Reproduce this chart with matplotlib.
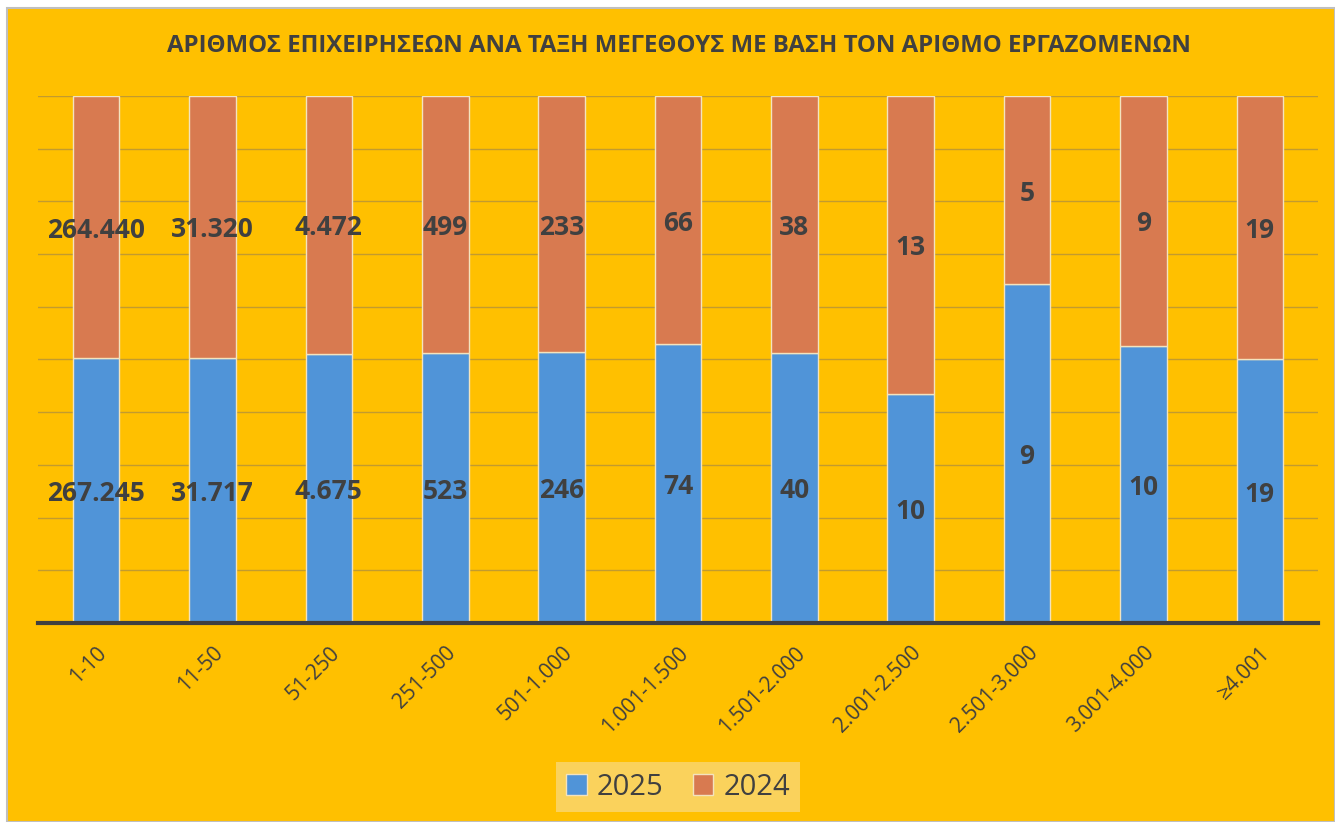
import numpy as np
import matplotlib
matplotlib.use("Agg")
import matplotlib.pyplot as plt
from matplotlib.patches import Rectangle

plt.rcParams['font.family'] = ['Open Sans', 'DejaVu Sans']

# DATOS
categorias = ["1-10", "11-50", "51-250", "251-500", "501-1.000", "1.001-1.500",
              "1.501-2.000", "2.001-2.500", "2.501-3.000", "3.001-4.000", "≥4.001"]
valores_2025 = [267245, 31717, 4675, 523, 246, 74, 40, 10, 9, 10, 19]
valores_2024 = [264440, 31320, 4472, 499, 233, 66, 38, 13, 5, 9, 19]

titulo = "ΑΡΙΘΜΟΣ ΕΠΙΧΕΙΡΗΣΕΩΝ ΑΝΑ ΤΑΞΗ ΜΕΓΕΘΟΥΣ ΜΕ ΒΑΣΗ ΤΟΝ ΑΡΙΘΜΟ ΕΡΓΑΖΟΜΕΝΩΝ"

azul = '#5094D8'
naranja = '#D87A50'
fondo = '#FFC000'
texto = '#404040'

# Porcentajes (gráfico apilado 100%)
a = np.array(valores_2025, dtype=float)
b = np.array(valores_2024, dtype=float)
total = a + b
p25 = a / total * 100
p24 = b / total * 100


def fmt(v):
    return f"{v:,}".replace(",", ".")


fig = plt.figure(figsize=(13.35, 8.22), dpi=100, facecolor='white')
# marco del gráfico
fig.patches.append(Rectangle((7 / 1335, 0), 1 - 7 / 1335, 1 - 8 / 822,
                             transform=fig.transFigure, facecolor=fondo,
                             edgecolor='#BFBFBF', linewidth=1.5, zorder=-10))

ax = fig.add_axes([38 / 1335, 1 - 623 / 822, (1318 - 38) / 1335, (623 - 96) / 822])
ax.set_facecolor('none')
ax.set_zorder(1)

x = np.arange(len(categorias))
barras25 = ax.bar(x, p25, width=0.40, color=azul, edgecolor='#F3E3BE',
                  linewidth=1, label='2025', zorder=3)
barras24 = ax.bar(x, p24, width=0.40, bottom=p25, color=naranja,
                  edgecolor='#F3E3BE', linewidth=1, label='2024', zorder=3)

ax.bar_label(barras25, labels=[fmt(v) for v in valores_2025], label_type='center',
             padding=-2.2, fontsize=19, fontweight='bold', color=texto, zorder=5)
ax.bar_label(barras24, labels=[fmt(v) for v in valores_2024], label_type='center',
             padding=-2.2, fontsize=19, fontweight='bold', color=texto, zorder=5)

ax.set_xlim(-0.5, len(categorias) - 0.5)
ax.set_ylim(0, 100)
ax.set_yticks(np.arange(0, 101, 10))
ax.yaxis.grid(True, color='#C29B2E', linewidth=1, zorder=1)
ax.set_axisbelow(True)
ax.tick_params(axis='y', left=False, labelleft=False)
ax.tick_params(axis='x', length=0, pad=14)

ax.set_xticks(x)
ax.set_xticklabels(categorias, rotation=45, ha='right', rotation_mode='anchor',
                   fontsize=15, color=texto)

for lado in ['top', 'right', 'left']:
    ax.spines[lado].set_visible(False)
ax.spines['bottom'].set_color(texto)
ax.spines['bottom'].set_linewidth(3)
ax.spines['bottom'].set_zorder(4)

fig.text(679 / 1335, 1 - 46 / 822, titulo, ha='center', va='center',
         fontsize=17.3, fontweight='bold', color=texto)

leg = fig.legend(handles=[barras25, barras24], labels=['2025', '2024'],
                 loc='center', bbox_to_anchor=(678 / 1335, 1 - 787 / 822),
                 ncol=2, fontsize=21, frameon=True, fancybox=False,
                 handlelength=0.7, handleheight=0.7, handletextpad=0.35,
                 columnspacing=1.0, borderpad=0.35, labelcolor=texto)
leg.get_frame().set_facecolor('#FAD25C')
leg.get_frame().set_edgecolor('none')
leg.get_frame().set_alpha(1)

plt.savefig('out.png', dpi=100, facecolor=fig.get_facecolor())
